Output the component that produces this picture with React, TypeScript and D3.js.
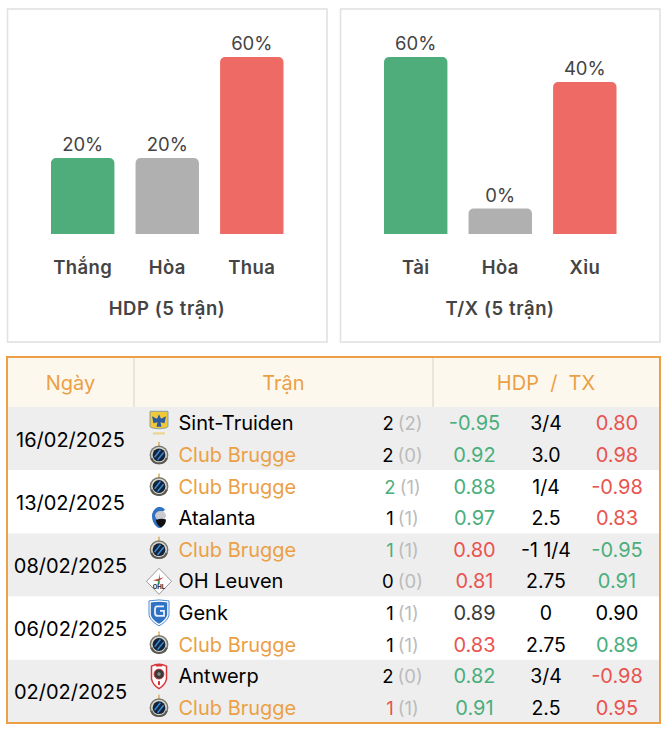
import * as d3 from "d3";

const FONT = "Inter, 'Noto Sans', sans-serif";

const GREEN = "#4fad7b";
const GREY = "#b0b0b0";
const RED = "#ee6a64";
const ORANGE = "#eba045";
const TEXT_WIN = "#4aae7c";
const TEXT_LOSE = "#e8544f";
const TONES: Record<string, string> = { win: TEXT_WIN, lose: TEXT_LOSE, flat: "#000", dim: "#3a3a3a" };

// charts
const hdpLabels = ["Thắng", "Hòa", "Thua"];
const hdpValues = [20, 20, 60];
const txLabels = ["Tài", "Hòa", "Xỉu"];
const txValues = [60, 0, 40];
const barColors = [GREEN, GREY, RED];

// table
const dates = ["16/02/2025", "13/02/2025", "08/02/2025", "06/02/2025", "02/02/2025"];
const teams = [
  "Sint-Truiden", "Club Brugge",
  "Club Brugge", "Atalanta",
  "Club Brugge", "OH Leuven",
  "Genk", "Club Brugge",
  "Antwerp", "Club Brugge",
];
const goals = [2, 2, 2, 1, 1, 0, 1, 1, 2, 1];
const halfGoals = [2, 0, 1, 1, 1, 0, 1, 1, 0, 1];
const goalTones = ["flat", "flat", "win", "flat", "win", "flat", "flat", "flat", "flat", "lose"];
const hdpOdds = ["-0.95", "0.92", "0.88", "0.97", "0.80", "0.81", "0.89", "0.83", "0.82", "0.91"];
const hdpTones = ["win", "win", "win", "win", "lose", "lose", "dim", "lose", "win", "win"];
const lines = ["3/4", "3.0", "1/4", "2.5", "-1 1/4", "2.75", "0", "2.75", "3/4", "2.5"];
const txOdds = ["0.80", "0.98", "-0.98", "0.83", "-0.95", "0.91", "0.90", "0.89", "-0.98", "0.95"];
const txTones = ["lose", "lose", "lose", "lose", "win", "win", "flat", "win", "lose", "lose"];

// bar height goes 3.8px per percent, but stays between a stub and the full height
const BASE_Y = 234;
const barHeight = d3.scaleLinear().domain([25.5 / 3.8, 177 / 3.8]).range([25.5, 177]).clamp(true);

function topRoundedBar(x: number, w: number, h: number, r: number) {
  const p = d3.path();
  const top = BASE_Y - h;
  p.moveTo(x, BASE_Y);
  p.lineTo(x, top + r);
  p.arcTo(x, top, x + r, top, r);
  p.lineTo(x + w - r, top);
  p.arcTo(x + w, top, x + w, top + r, r);
  p.lineTo(x + w, BASE_Y);
  p.closePath();
  return p.toString();
}

type PanelProps = { left: number; labels: string[]; values: number[]; title: string };

const Panel = ({ left, labels, values, title }: PanelProps) => {
  const x = d3.scaleBand().domain(labels.map((_, i) => String(i))).range([left + 43.5, left + 276]).paddingInner(0.25).paddingOuter(0);
  return (
    <g>
      <rect x={left} y={9} width={319.5} height={333} fill="#fff" stroke="#e2e2e2" strokeWidth={1.6} />
      {labels.map((label, i) => {
        const bx = x(String(i)) as number;
        const h = barHeight(values[i]);
        const cx = bx + x.bandwidth() / 2;
        return (
          <g key={i}>
            <path d={topRoundedBar(bx, x.bandwidth(), h, 5)} fill={barColors[i]} />
            <text x={cx} y={BASE_Y - h - 7} textAnchor="middle" fontSize={18.5} fill="#444">{values[i]}%</text>
            <text x={cx} y={274} textAnchor="middle" fontSize={18.5} fontWeight={600} letterSpacing={0.4} fill="#444">{label}</text>
          </g>
        );
      })}
      <text x={left + 159.5} y={315} textAnchor="middle" fontSize={18.5} fontWeight={600} letterSpacing={0.6} fill="#444">{title}</text>
    </g>
  );
};

// little club crests, all drawn around 0,0
const BruggeLogo = () => (
  <g>
    <rect x={-0.7} y={-13} width={1.4} height={4} fill="#d9a94a" />
    <circle r={9.4} fill="#77776f" />
    <circle r={8} fill="#d8d5c8" />
    <circle r={6.4} fill="#14233b" />
    <g stroke="#3a8ed6" strokeWidth={1.5}>
      <line x1={-4.4} y1={2.4} x2={1.4} y2={-5} />
      <line x1={-1.4} y1={5} x2={4.6} y2={-2.4} />
    </g>
    <path d="M-8.8 3.5 A9.5 9.5 0 0 0 8.8 3.5 L6.6 2.8 A7 7 0 0 1 -6.6 2.8 Z" fill="#5a5a54" />
  </g>
);

const StvvLogo = () => (
  <g>
    <path d="M-9 -12 H9 V3 Q9 5 0 5.5 Q-9 5 -9 3 Z" fill="#f0c93a" stroke="#6d93ad" strokeWidth={0.8} />
    <path d="M0 -9 L2 -4.5 L7 -7 L5.5 0 L1.5 -1 L2.5 3.5 H-2.5 L-1.5 -1 L-5.5 0 L-7 -7 L-2 -4.5 Z" fill="#2a5aa0" />
    <rect x={-6} y={9} width={12} height={2.2} fill="#e8d78f" />
  </g>
);

const AtalantaLogo = () => (
  <g>
    <path d="M-1 -11 Q4 -12 6 -8 L3 -6 Q-2 -6 -3 -1 Q-2 3 3 4 L3 9 Q0 11 -2 9 Q-7 5 -7 -2 Q-7 -8 -1 -11 Z" fill="#2f72c4" />
    <ellipse cx={1.5} cy={-2.5} rx={5.5} ry={4.5} fill="#c9cbce" />
    <path d="M-3 2 Q2 -0.5 7 1.5 Q7 7 2 9.5 Q-3 7 -3 2 Z" fill="#111" />
  </g>
);

const LeuvenLogo = () => (
  <g>
    <path d="M0 -13 L12.5 0 L0 13 L-12.5 0 Z" fill="#fff" stroke="#8d8d8d" strokeWidth={0.9} strokeLinejoin="round" />
    <path d="M-6 -1 L5 -4 L-1 0 Z" fill="#d63a35" />
    <path d="M1 -8 L-1.5 3 L0.6 3 Z" fill="#2b8b4a" />
    <text x={0} y={8} textAnchor="middle" fontSize={6} fontWeight={700} fill="#222">OHL</text>
  </g>
);

const GenkLogo = () => (
  <g>
    <path d="M-10 -12 Q0 -14 10 -12 V2 Q9 8 0 13 Q-9 8 -10 2 Z" fill="#fff" stroke="#3f7fc9" strokeWidth={0.9} />
    <path d="M-8.2 -10.5 Q0 -12 8.2 -10.5 V1.5 Q7.5 6.5 0 10.8 Q-7.5 6.5 -8.2 1.5 Z" fill="#2f72c4" />
    <path d="M5 -6.5 H-2 Q-4 -6.5 -4 -3.5 V0 Q-4 3 -1 3 H5 V-2 H1" fill="none" stroke="#e9f0fa" strokeWidth={1.8} />
  </g>
);

const AntwerpLogo = () => (
  <g>
    <path d="M-7.5 -10 Q0 -13.5 7.5 -10 V3 Q6 9 0 12.5 Q-6 9 -7.5 3 Z" fill="#fff" stroke="#d9353a" strokeWidth={1.5} />
    <rect x={-3.5} y={-12} width={7} height={2.4} rx={1} fill="#d9353a" />
    <circle cy={-2} r={5} fill="#3a3a3a" stroke="#d9353a" strokeWidth={0.8} />
    <circle cy={-2} r={1.8} fill="#8a8a8a" />
    <rect x={-1} y={5} width={2} height={4} fill="#d9353a" />
  </g>
);

const logos: Record<string, () => any> = {
  "Sint-Truiden": StvvLogo,
  "Club Brugge": BruggeLogo,
  Atalanta: AtalantaLogo,
  "OH Leuven": LeuvenLogo,
  Genk: GenkLogo,
  Antwerp: AntwerpLogo,
};

const TABLE_LEFT = 7;
const TABLE_RIGHT = 660;
const HEAD_TOP = 357;
const ROWS_TOP = 407;
const ROWS_BOTTOM = 723;

const Table = () => {
  const lineY = d3.scaleBand().domain(teams.map((_, i) => String(i))).range([ROWS_TOP, ROWS_BOTTOM]);
  const rowH = lineY.bandwidth();
  const base = (i: number) => (lineY(String(i)) as number) + rowH / 2 + 7.5;
  return (
    <g>
      <rect x={TABLE_LEFT} y={HEAD_TOP} width={TABLE_RIGHT - TABLE_LEFT} height={ROWS_TOP - HEAD_TOP} fill="#fdf8ee" />
      {dates.map((d, m) => {
        const top = lineY(String(m * 2)) as number;
        return (
          <g key={d}>
            <rect x={TABLE_LEFT} y={top} width={TABLE_RIGHT - TABLE_LEFT} height={rowH * 2} fill={m % 2 === 0 ? "#eeeeee" : "#fff"} />
            <text x={70.5} y={top + rowH + 8} textAnchor="middle" fontSize={20} fill="#000">{d}</text>
          </g>
        );
      })}
      <line x1={134} x2={134} y1={HEAD_TOP} y2={ROWS_TOP} stroke="#e0dcd4" strokeWidth={1.4} />
      <line x1={433} x2={433} y1={HEAD_TOP} y2={ROWS_TOP} stroke="#e0dcd4" strokeWidth={1.4} />
      <text x={70.5} y={390} textAnchor="middle" fontSize={20} fill={ORANGE}>Ngày</text>
      <text x={283.5} y={390} textAnchor="middle" fontSize={20} fill={ORANGE}>Trận</text>
      <text x={546} y={390} textAnchor="middle" fontSize={20} fill={ORANGE} xmlSpace="preserve">HDP  /  TX</text>
      {teams.map((team, i) => {
        const Logo = logos[team];
        const cy = (lineY(String(i)) as number) + rowH / 2;
        return (
          <g key={i}>
            <g transform={`translate(159,${cy + 0.5})`}><Logo /></g>
            <text x={178.5} y={base(i)} fontSize={20} fill={team === "Club Brugge" ? ORANGE : "#000"}>{team}</text>
            <text x={402.5} y={base(i)} textAnchor="middle" fontSize={18.5}>
              <tspan fill={TONES[goalTones[i]]}>{goals[i]}</tspan>
              <tspan fill="#bbb" dx={4}>({halfGoals[i]})</tspan>
            </text>
            <text x={474.5} y={base(i)} textAnchor="middle" fontSize={20} fill={TONES[hdpTones[i]]}>{hdpOdds[i]}</text>
            <text x={546} y={base(i)} textAnchor="middle" fontSize={19.5} fill="#000">{lines[i]}</text>
            <text x={617} y={base(i)} textAnchor="middle" fontSize={20} fill={TONES[txTones[i]]}>{txOdds[i]}</text>
          </g>
        );
      })}
      <rect x={TABLE_LEFT} y={HEAD_TOP} width={TABLE_RIGHT - TABLE_LEFT} height={ROWS_BOTTOM - HEAD_TOP} fill="none" stroke={ORANGE} strokeWidth={2} />
    </g>
  );
};

export default function App() {
  return (
    <svg width={668} height={734} fontFamily={FONT} style={{ position: "absolute", left: 0, top: 0, display: "block" }}>
      <rect width={668} height={734} fill="#fff" />
      <Panel left={7.5} labels={hdpLabels} values={hdpValues} title="HDP (5 trận)" />
      <Panel left={340.5} labels={txLabels} values={txValues} title="T/X (5 trận)" />
      <Table />
    </svg>
  );
}
